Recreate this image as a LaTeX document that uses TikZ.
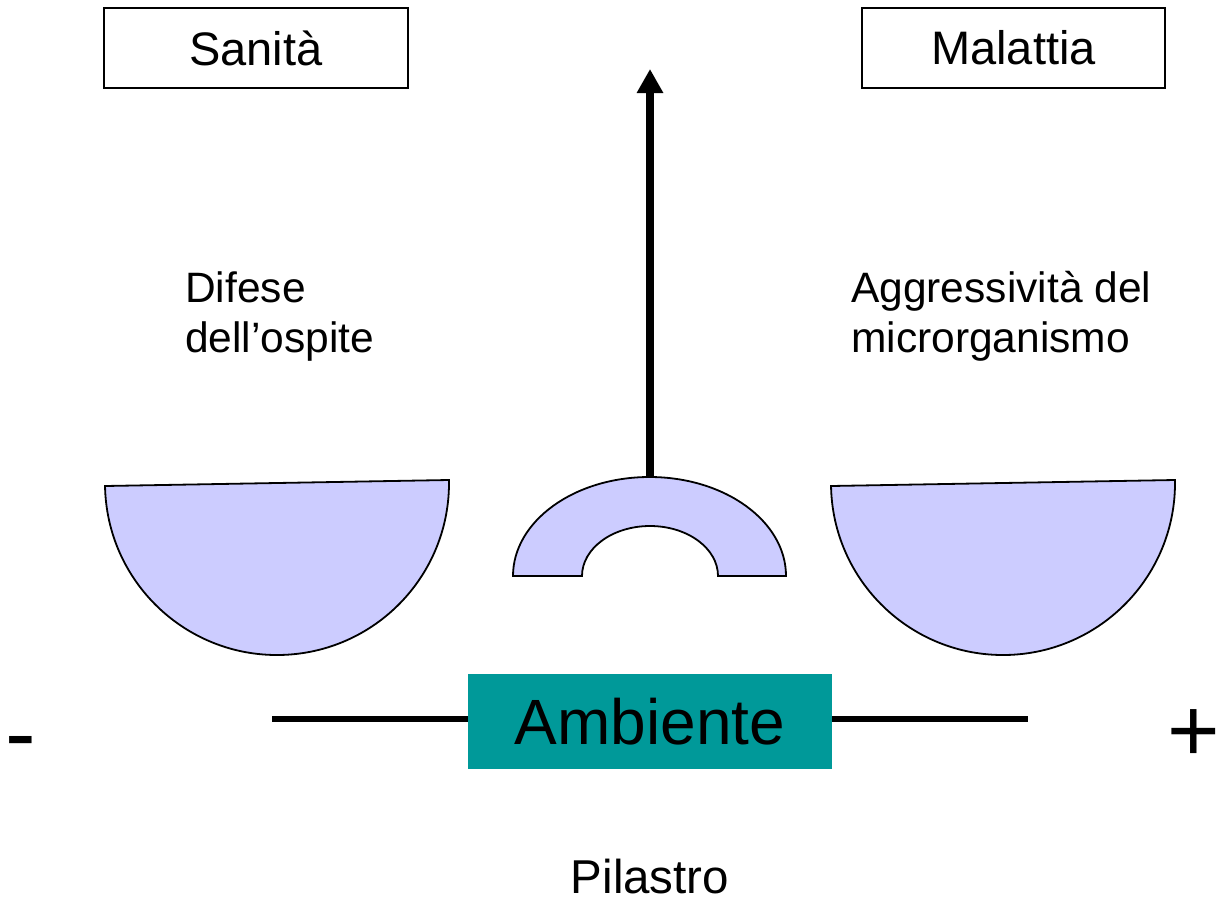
\documentclass[tikz,border=0pt]{standalone}
\usepackage{fontspec}
\setmainfont{Liberation Sans}
\usetikzlibrary{arrows.meta,calc}
\definecolor{bowlfill}{HTML}{CCCCFF}
\definecolor{teal}{HTML}{009999}
\begin{document}
\begin{tikzpicture}[
  titlebox/.style={draw=black, line width=2pt, minimum height=80pt, inner sep=0pt, font=\fontsize{47}{56}\selectfont},
  label/.style={align=left, inner sep=0pt, font=\fontsize{42.5}{50}\selectfont},
  bowl/.style={draw=black, line width=1.8pt, fill=bowlfill},
  envbox/.style={fill=teal, minimum width=364pt, minimum height=95pt, inner sep=0pt, font=\fontsize{64}{70}\selectfont},
  beam/.style={line width=6pt},
  sign/.style={inner sep=0pt, font=\fontsize{92}{100}\selectfont},
  pointer/.style={line width=8pt, -{Triangle[width=25pt,length=24pt]}}
]
\useasboundingbox (0pt,0pt) rectangle (1222pt,-902pt);

% title boxes
\node[titlebox, minimum width=304pt] (sanita) at (256pt,-48pt) {Sanità};
\node[titlebox, minimum width=303pt] (malattia) at (1013.5pt,-48pt) {Malattia};

% labels (base anchor = baseline of the last line)
\node[label, anchor=base west] (difese) at (185pt,-352pt) {Difese\\dell’ospite};
\node[label, anchor=base west] (aggr) at (851pt,-352pt) {Aggressività del\\microrganismo};

% bowls
\draw[bowl] ($(277pt,-483pt)+(181:172pt)$) arc[start angle=181, end angle=361, radius=172pt] -- cycle;
\draw[bowl] ($(1003pt,-483pt)+(181:172pt)$) arc[start angle=181, end angle=361, radius=172pt] -- cycle;

% central arch
\draw[bowl] (513pt,-576pt) arc[start angle=180, end angle=0, x radius=136.5pt, y radius=99pt]
  -- (718pt,-576pt) arc[start angle=0, end angle=180, x radius=68pt, y radius=50pt] -- cycle;

% arrow
\coordinate (archtop) at (650pt,-478pt);
\coordinate (arrowtip) at (650pt,-69pt);
\draw[pointer] (archtop) -- (arrowtip);

% environment bar
\node[envbox] (amb) at (650pt,-721.5pt) {Ambiente};
\coordinate (beamL) at (272pt,-719pt);
\coordinate (beamR) at (1028pt,-719pt);
\draw[beam] (beamL) -- (beamL -| amb.west);
\draw[beam] (amb.east |- beamR) -- (beamR);

% signs
\node[sign, anchor=base west] (minus) at (5pt,-764pt) {-};
\node[sign, anchor=base west, font=\fontsize{90}{100}\selectfont] (plus) at (1167pt,-761pt) {+};

% bottom label
\node[inner sep=0pt, anchor=base, font=\fontsize{47.5}{54}\selectfont] (pilastro) at (650pt,-893pt) {Pilastro};
\end{tikzpicture}
\end{document}
